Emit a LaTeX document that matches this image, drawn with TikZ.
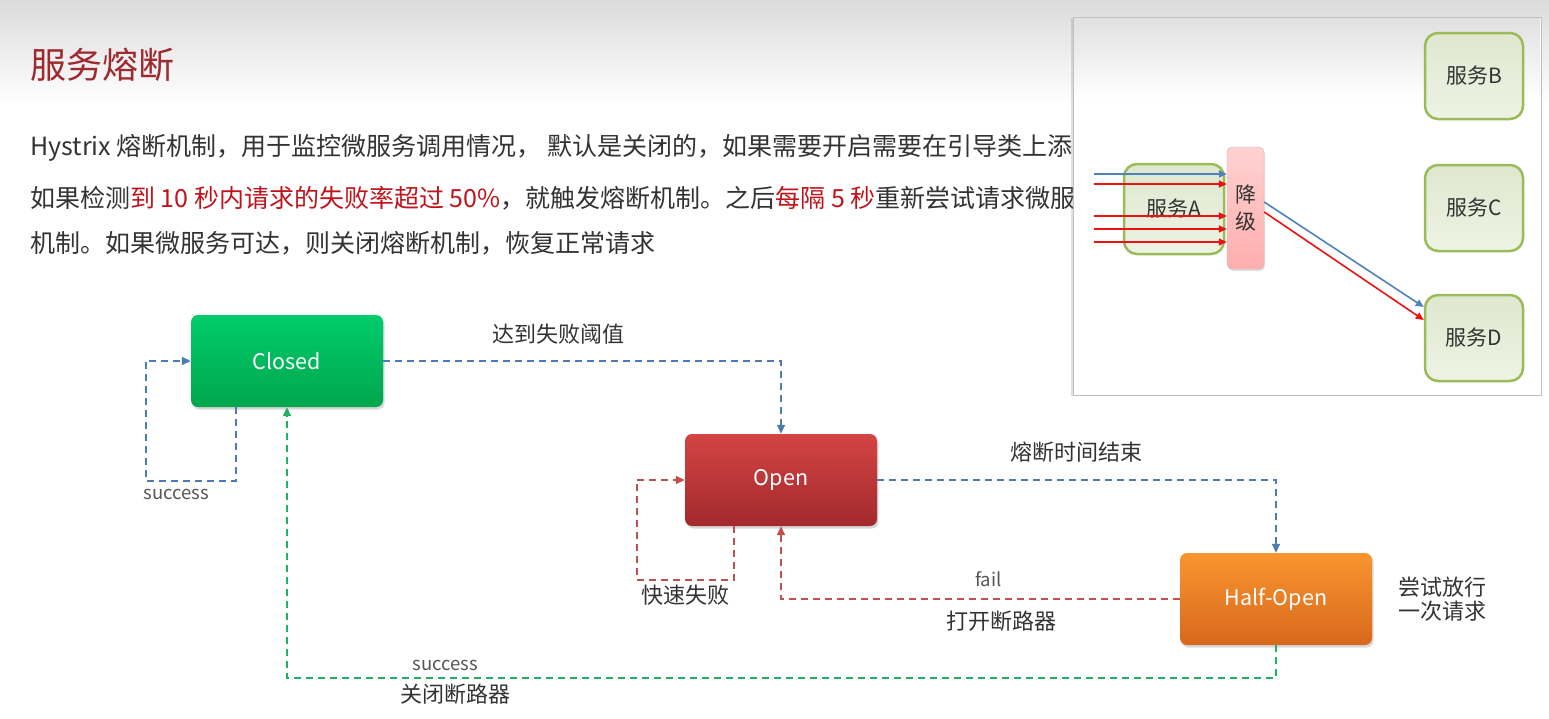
\documentclass[tikz,border=0pt]{standalone}
\usepackage{fontspec}
\setmainfont{Noto Sans CJK SC}
\usetikzlibrary{arrows.meta,positioning,shadows}
\definecolor{titlered}{HTML}{9E2A2F}
\definecolor{hlred}{HTML}{C0141C}
\definecolor{bodygray}{HTML}{333333}
\definecolor{labelgray}{HTML}{555555}
\definecolor{flowblue}{HTML}{4F7BB5}
\definecolor{flowred}{HTML}{C0504D}
\definecolor{flowgreen}{HTML}{1FB260}
\definecolor{reqblue}{HTML}{4F81BD}
\definecolor{reqred}{HTML}{EE1111}
\definecolor{svcborder}{HTML}{9BBB59}
\definecolor{svctop}{HTML}{DFE7CF}
\definecolor{svcbot}{HTML}{EEF3E3}
\definecolor{closedtop}{HTML}{00CC6C}
\definecolor{closedbot}{HTML}{00A64C}
\definecolor{opentop}{HTML}{D44444}
\definecolor{openbot}{HTML}{A2292C}
\definecolor{halftop}{HTML}{F99530}
\definecolor{halfbot}{HTML}{D8681C}
\tikzset{>={Triangle[length=9pt,width=8pt]},
  title/.style={anchor=west,inner sep=0pt,text=titlered,font=\fontsize{36}{40}\selectfont},
  bodytext/.style={anchor=west,inner sep=0pt,text=bodygray,font=\fontsize{25}{30}\selectfont},
  state/.style={rounded corners=7pt,minimum width=192pt,minimum height=92pt,
    text=white,font=\fontsize{21.5}{24}\selectfont,
    drop shadow={shadow xshift=1.5pt,shadow yshift=-2.5pt,opacity=.3}},
  cnlabel/.style={inner sep=2pt,text=bodygray,font=\fontsize{22}{23}\selectfont},
  enlabel/.style={inner sep=2pt,text=labelgray,font=\fontsize{18.5}{20}\selectfont},
  flow/.style={->,dash pattern=on 7pt off 5pt,line width=1.6pt},
  svc/.style={rounded corners=13pt,draw=svcborder,line width=2.5pt,
    top color=svctop,bottom color=svcbot,minimum width=98pt,minimum height=86pt,
    text=bodygray,font=\fontsize{21}{24}\selectfont},
  req/.style={-{Triangle[length=8pt,width=7pt]},line width=1.6pt}}
\begin{document}
\begin{tikzpicture}[x=1pt,y=-1pt]
\useasboundingbox (0,0) rectangle (1549,718);
\fill[white] (0,0) rectangle (1549,718);
\shade[top color=black!14,bottom color=white] (0,0) rectangle (1549,105);

\node[title] (title) at (30,65) {服务熔断};
\node[bodytext] (line1) at (30,148) {Hystrix 熔断机制，用于监控微服务调用情况， 默认是关闭的，如果需要开启需要在引导类上添};
\node[bodytext] (line2) at (30,198) {如果检测{\color{hlred}到 10 秒内请求的失败率超过 50\%}，就触发熔断机制。之后{\color{hlred}每隔 5 秒}重新尝试请求微服};
\node[bodytext] (line3) at (30,243) {机制。如果微服务可达，则关闭熔断机制，恢复正常请求};

\draw[black!25,fill=white,drop shadow={shadow xshift=-2pt,shadow yshift=-1pt,opacity=.25}] (1073,17) rectangle (1541,395);
\shade[top color=black!12,bottom color=white] (1074,18) rectangle (1540,100);
\node[svc] (svcB) at (1474,76) {服务B};
\node[svc] (svcC) at (1474,208) {服务C};
\node[svc] (svcD) at (1474,338) {服务D};
\node[svc,minimum width=100pt,minimum height=90pt] (svcA) at (1174,209) {服务A};
\node[rounded corners=5pt,draw=black!25,top color=red!18,bottom color=red!32,
  minimum width=37pt,minimum height=122pt,inner sep=0pt,align=center,
  text=bodygray,font=\fontsize{21}{27}\selectfont,
  drop shadow={shadow xshift=1pt,shadow yshift=-2pt,opacity=.25}] (degrade) at (1245.5,208) {降\\级};
\foreach \y/\c [count=\i] in {174/reqblue,184/reqred,216/reqred,229/reqred,242/reqred}{
  \coordinate (in\i) at (1094,\y);
  \draw[req,\c] (in\i) -- (in\i -| degrade.west);
}
\draw[req,reqblue] ([yshift=6pt]degrade.east) -- ([yshift=31pt]svcD.west);
\draw[req,reqred] ([yshift=-4pt]degrade.east) -- ([yshift=18pt]svcD.west);

\node[state,top color=closedtop,bottom color=closedbot] (closed) at (287,361) {Closed};
\node[state,top color=opentop,bottom color=openbot] (open) at (781,480) {Open};
\node[state,top color=halftop,bottom color=halfbot] (half) at (1276,599) {Half-Open};
\node[cnlabel,align=left,right=24pt of half] (try) {尝试放行\\[1pt]一次请求};

\draw[flow,flowblue] ([xshift=-51pt]closed.south) -- ++(0,74)
  -| node[enlabel,pos=0.33,below=5pt] {success} ([xshift=-45pt]closed.west) -- (closed.west);
\draw[flow,flowblue] (closed.east) -| node[cnlabel,pos=0.22,above=14pt] {达到失败阈值} (open.north);
\draw[flow,flowred] ([xshift=-47pt]open.south) -- ++(0,54)
  -| node[cnlabel,pos=0.25,below=2pt] {快速失败} ([xshift=-48pt]open.west) -- (open.west);
\draw[flow,flowblue] (open.east) -| node[cnlabel,pos=0.25,above=15pt] {熔断时间结束} (half.north);
\draw[flow,flowred] (half.west) -| node[enlabel,pos=0.24,above=9pt] {fail}
  node[cnlabel,pos=0.224,below=9pt] {打开断路器} (open.south);
\draw[flow,flowgreen] (half.south) -- ++(0,33) -| node[enlabel,pos=0.42,above=5pt] {success}
  node[cnlabel,pos=0.415,below=3pt] {关闭断路器} (closed.south);
\end{tikzpicture}
\end{document}
